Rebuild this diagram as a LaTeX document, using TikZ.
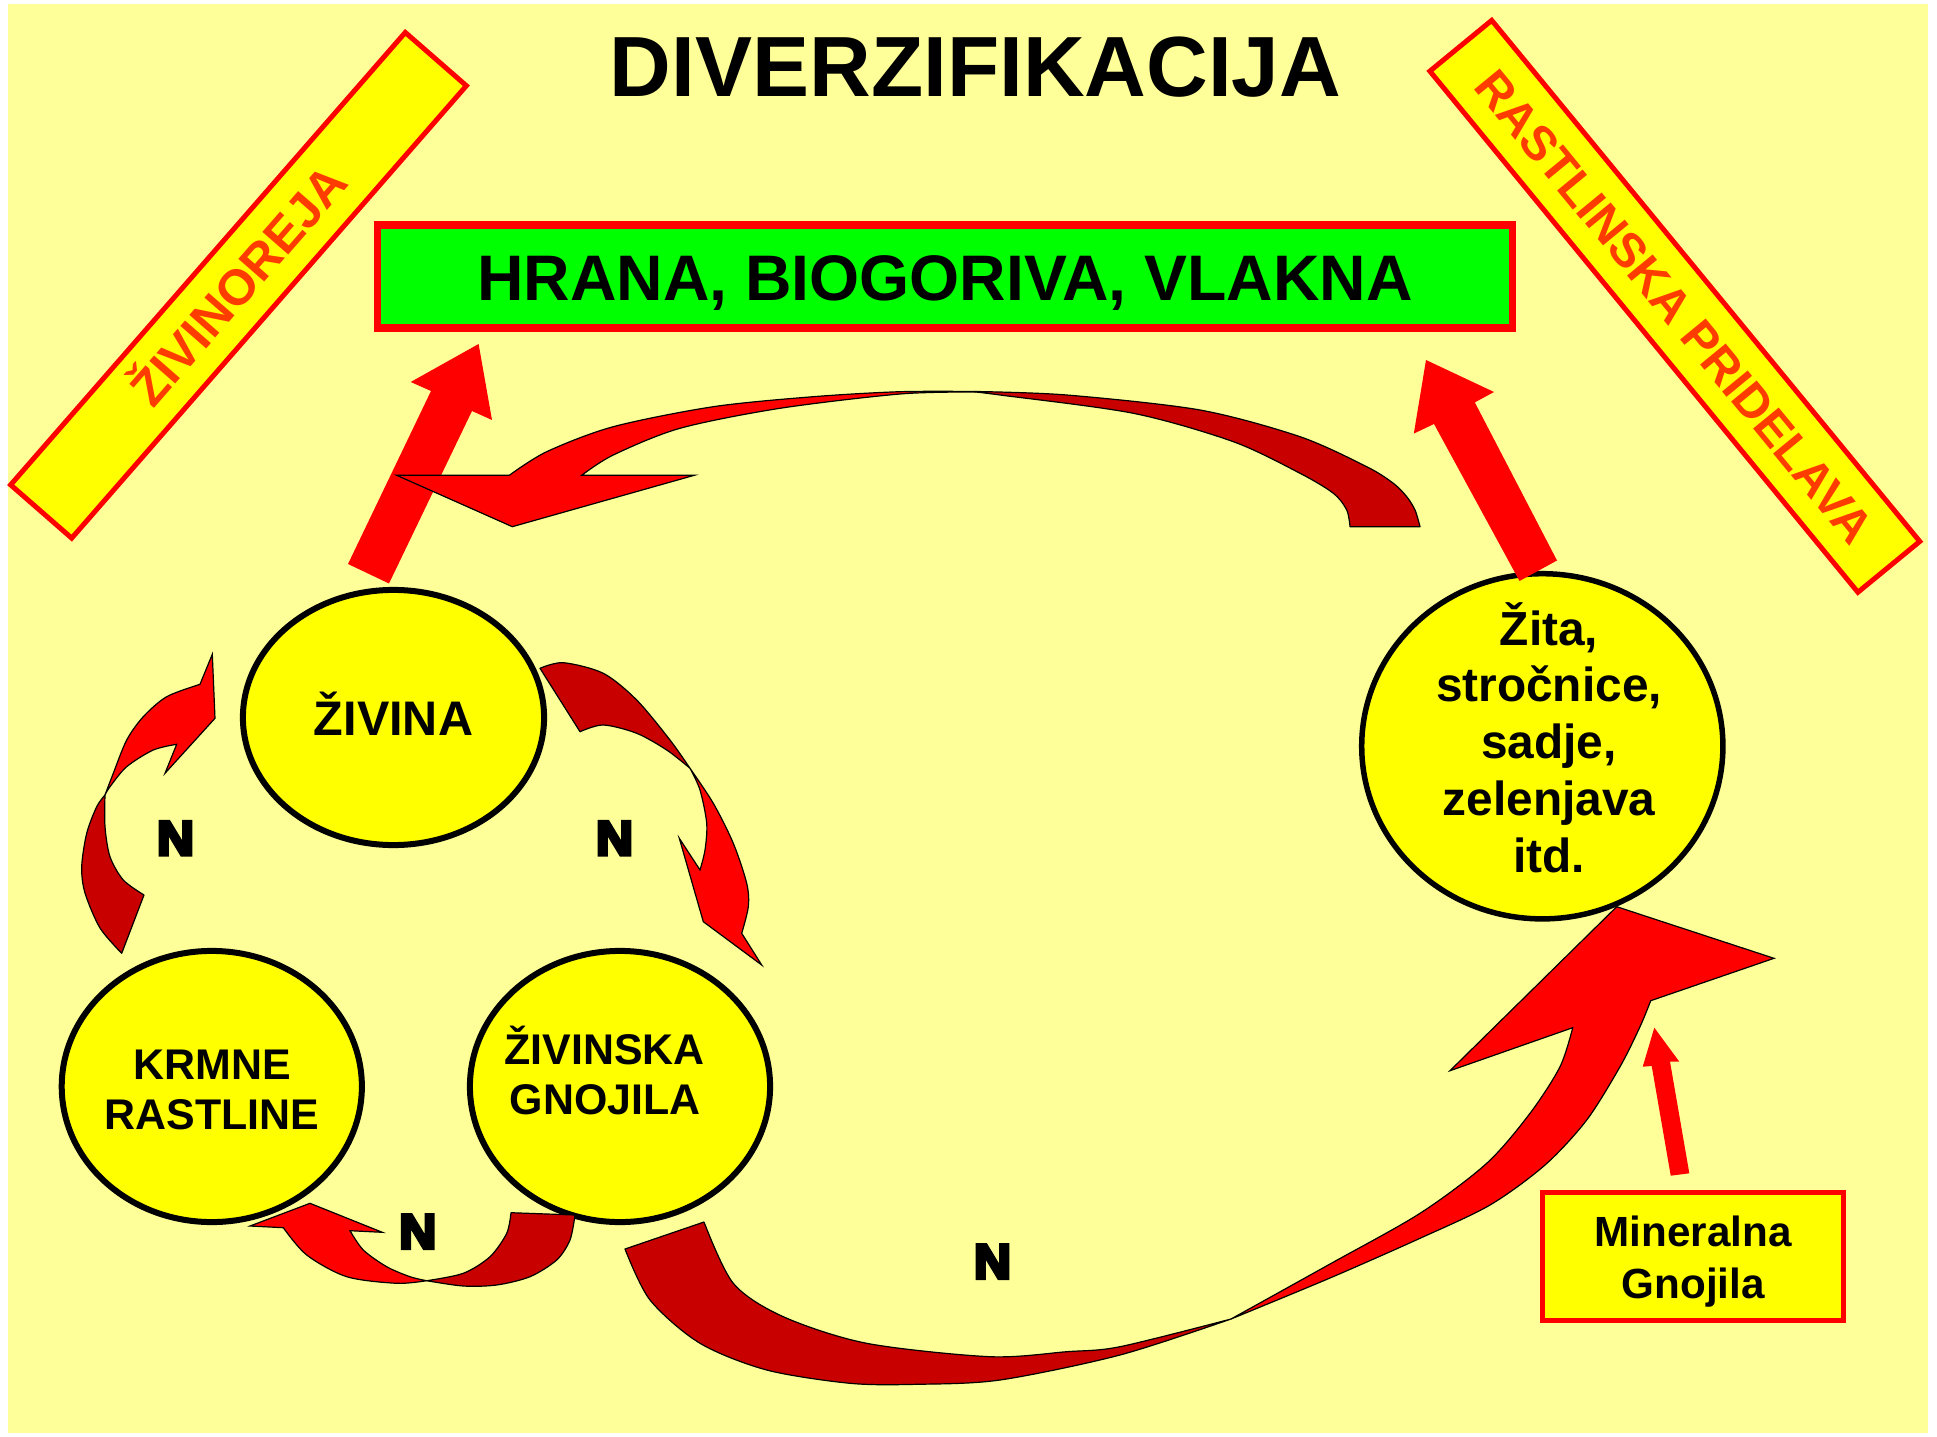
\documentclass[tikz,border=0pt]{standalone}
\usepackage{fontspec}
\setmainfont{Liberation Sans}
\newfontfamily\heavyfont{Liberation Sans}[UprightFont={* Bold}, FakeBold=7]
\usetikzlibrary{shapes.geometric}
\definecolor{bgyellow}{RGB}{255,255,153}
\definecolor{boxyellow}{RGB}{255,255,0}
\definecolor{boxgreen}{RGB}{0,255,0}
\definecolor{arrred}{RGB}{255,0,0}
\definecolor{arrdark}{RGB}{200,0,0}
\definecolor{bandtext}{RGB}{255,60,0}
\tikzset{
  band/.style={draw=arrred, line width=0.05cm, fill=boxyellow, text=bandtext, inner sep=0pt, text depth=0pt},
  blob/.style={ellipse, draw=black, line width=0.06cm, fill=boxyellow, inner sep=0pt},
  lbl/.style={anchor=base, text=black, inner sep=0pt},
  nlbl/.style={anchor=base, text=black, inner sep=0pt, xscale=1.06, font=\heavyfont\fontsize{13.8}{17}\selectfont},
  backpart/.style={fill=arrdark, draw=black, line width=0.012cm, line join=round},
  frontpart/.style={fill=arrred, draw=black, line width=0.012cm, line join=miter},
  blockarrow/.style={fill=arrred},
}
\begin{document}
\begin{tikzpicture}[x=0.01cm, y=-0.01cm]
\useasboundingbox (0,0) rectangle (1937,1437);
\fill[white] (0,0) rectangle (1937,1437);
\fill[bgyellow] (8,4) rectangle (1928,1433);

% bands
\node[band, rotate=48.9, minimum width=6cm, minimum height=0.81cm, text height=10.2pt,
  font=\bfseries\fontsize{14.2}{17}\selectfont] (zivinoreja) at (238.5,285.3) {ŽIVINOREJA};
\node[band, rotate=-50.6, minimum width=6.74cm, minimum height=0.8cm, text height=9.8pt,
  font=\bfseries\fontsize{13.7}{16}\selectfont] (rastlinska) at (1674.8,306.3) {RASTLINSKA PRIDELAVA};

% title
\node[lbl, font=\bfseries\fontsize{24.3}{29}\selectfont] (title) at (975.5,96.5) {DIVERZIFIKACIJA};

% green box
\node[draw=arrred, line width=0.075cm, fill=boxgreen, minimum width=11.34cm, minimum height=1.03cm, inner sep=0pt] (hrana) at (945,276.5) {};
\node[lbl, font=\bfseries\fontsize{18.3}{22}\selectfont] (hranatxt) at (945,301) {HRANA, BIOGORIVA, VLAKNA};

% ellipses
\node[blob, minimum width=3.01cm, minimum height=2.55cm] (zivina) at (393.5,717.5) {};
\node[blob, minimum width=3.00cm, minimum height=2.71cm] (krmne) at (211.8,1086.5) {};
\node[blob, minimum width=3.00cm, minimum height=2.71cm] (gnojila) at (620,1086.5) {};
\node[blob, minimum width=3.61cm, minimum height=3.45cm, line width=0.055cm] (zita) at (1542.3,746.3) {};

\node[lbl, font=\bfseries\fontsize{13.8}{16}\selectfont] (zivinatxt) at (393.5,735) {ŽIVINA};
\node[lbl, font=\bfseries\fontsize{12.2}{14}\selectfont] (krmneA) at (212,1079) {KRMNE};
\node[lbl, font=\bfseries\fontsize{12.2}{14}\selectfont] (krmneB) at (212,1129) {RASTLINE};
\node[lbl, font=\bfseries\fontsize{12.2}{14}\selectfont] (gnojilaA) at (604.6,1064) {ŽIVINSKA};
\node[lbl, font=\bfseries\fontsize{12.2}{14}\selectfont] (gnojilaB) at (605,1114.6) {GNOJILA};
\node[lbl, font=\bfseries\fontsize{13.6}{16}\selectfont] (zitaA) at (1549,645) {Žita,};
\node[lbl, font=\bfseries\fontsize{13.6}{16}\selectfont] (zitaB) at (1549,701.8) {stročnice,};
\node[lbl, font=\bfseries\fontsize{13.6}{16}\selectfont] (zitaC) at (1549,758.6) {sadje,};
\node[lbl, font=\bfseries\fontsize{13.6}{16}\selectfont] (zitaD) at (1549,815.4) {zelenjava};
\node[lbl, font=\bfseries\fontsize{13.6}{16}\selectfont] (zitaE) at (1549,872.2) {itd.};

% mineral box
\node[draw=arrred, line width=0.05cm, fill=boxyellow, minimum width=3.01cm, minimum height=1.28cm, inner sep=0pt] (mineral) at (1693,1256.5) {};
\node[lbl, font=\bfseries\fontsize{12}{14}\selectfont] (mineralA) at (1693.3,1246.7) {Mineralna};
\node[lbl, font=\bfseries\fontsize{12}{14}\selectfont] (mineralB) at (1693.3,1298) {Gnojila};

% straight block arrows
\fill[blockarrow] (348,564) -- (431,391) -- (410.7,382) -- (478.6,344) -- (492,420) -- (472,411) -- (389,583.5) -- cycle;
\fill[blockarrow] (1519.5,581) -- (1434,424) -- (1413.8,433.6) -- (1426,360) -- (1494,392) -- (1474.8,402.4) -- (1557,560.5) -- cycle;
\fill[blockarrow] (1670.7,1175.7) -- (1651.7,1066) -- (1642.7,1066.7) -- (1654.3,1027.7) -- (1679.3,1061.7) -- (1670,1061.7) -- (1689.3,1173.3) -- cycle;

% top curved arrow
\path[backpart] (975,391.5) -- plot[smooth] coordinates {(975,391.5) (1066.7,395) (1200,410) (1300,436.7) (1366.7,466.7) (1393.3,483.3) (1406.7,496.7) (1415,510) (1420,526.7)}
  -- (1350,526.7) -- plot[smooth] coordinates {(1350,526.7) (1346.7,510) (1333.3,493.3) (1300,473.3) (1233.3,441.7) (1133.3,413.3) (1000,395) (975,392)} -- cycle;
\path[frontpart] (975,391.5) -- plot[smooth] coordinates {(975,391.5) (900,391.7) (813.3,396.7) (713.3,406.7) (613.3,426.7) (546.7,451.7) (509.3,475.3)}
  -- (396.7,475.3) -- (512.3,526.7) -- (694.3,475.3) -- (581.7,475.3)
  -- plot[smooth] coordinates {(581.7,475.3) (613.3,455) (680,428.3) (780,408.3) (900,394) (975,392)} -- cycle;

% left small arrow (krmne -> zivina)
\path[backpart] (121.7,953.3) -- plot[smooth] coordinates {(121.7,953.3) (100,928) (85,893) (81.7,866.7) (86.7,833.3) (96.7,806.7) (105,795)}
  -- plot[smooth] coordinates {(105,795) (105,826.7) (110,856.7) (123.3,880) (144,895)} -- cycle;
\path[frontpart] (105,795) -- plot[smooth] coordinates {(105,795) (113.3,773.3) (126.7,740) (143.3,716.7) (166.7,696.7) (200,684.3)}
  -- (212.3,654.3) -- (215,718.3) -- (165,773.3) -- (176.7,744.3)
  -- plot[smooth] coordinates {(176.7,744.3) (153.3,750) (126.7,766.7) (110,786.7) (105,795)} -- cycle;

% right small arrow (zivina -> gnojila)
\path[backpart] (540,668.3) -- plot[smooth] coordinates {(540,668.3) (563.3,662.7) (603.3,673.3) (636.7,700) (670,740) (690,768.3)}
  -- plot[smooth] coordinates {(690,768.3) (666.7,750) (636.7,733.3) (603.3,725) (580,731.7)} -- cycle;
\path[frontpart] (690,768.3) -- plot[smooth] coordinates {(690,768.3) (713.3,803.3) (733.3,843.3) (746.7,883.3) (748.3,906.7) (741.7,933.3)}
  -- (761.7,965) -- (703.3,921.7) -- (679.3,838.3) -- (700,870)
  -- plot[smooth] coordinates {(700,870) (705,850) (706.7,823.3) (700,790) (690,768.3)} -- cycle;

% bottom small arrow (gnojila -> krmne)
\path[backpart] (575,1215) -- plot[smooth] coordinates {(575,1215) (570,1240) (556.7,1260) (530,1276.7) (496.7,1285) (463.3,1286) (426.7,1280.7)}
  -- plot[smooth] coordinates {(426.7,1280.7) (463.3,1273.3) (490,1256.7) (506.7,1233.3) (511,1212.7)} -- cycle;
\path[frontpart] (426.7,1280.7) -- plot[smooth] coordinates {(426.7,1280.7) (396.7,1283.3) (346.7,1276.7) (306.7,1255) (283.3,1227.7)}
  -- (250,1226) -- (310,1203.3) -- (382.3,1232.3) -- (350,1230.7)
  -- plot[smooth] coordinates {(350,1230.7) (363.3,1250) (386.7,1266.7) (410,1276.7) (426.7,1280.7)} -- cycle;

% big bottom arrow (gnojila -> zita)
\path[backpart] (625,1249) -- (704,1222) -- plot[smooth] coordinates {(704,1222) (733.3,1283.3) (783.3,1316.7) (866.7,1343.3) (990,1356.7) (1066.7,1351.7) (1120,1346.7) (1231,1319)}
  -- plot[smooth] coordinates {(1231,1319) (1120,1355) (1000,1380) (916.7,1384.3) (850,1383.3) (766.7,1370) (700,1343.3) (650,1300) (625,1249)} -- cycle;
\path[frontpart] (1231,1319) -- plot[smooth] coordinates {(1231,1319) (1330,1264) (1420,1213.3) (1486.7,1163.3) (1530,1113.3) (1560,1066.7) (1572.7,1027.7)}
  -- (1450,1070.7) -- (1616.7,906.7) -- (1774,958.3) -- (1650.7,1000.7)
  -- plot[smooth] coordinates {(1650.7,1000.7) (1640,1026.7) (1620,1066.7) (1586.7,1120) (1545,1165) (1490,1205) (1420,1238.3) (1330,1278) (1231,1319)} -- cycle;

% N labels
\node[nlbl] (n1) at (175.5,855) {N};
\node[nlbl] (n2) at (614.5,855) {N};
\node[nlbl] (n3) at (417.8,1248.3) {N};
\node[nlbl] (n4) at (992.5,1278.3) {N};
\end{tikzpicture}
\end{document}
